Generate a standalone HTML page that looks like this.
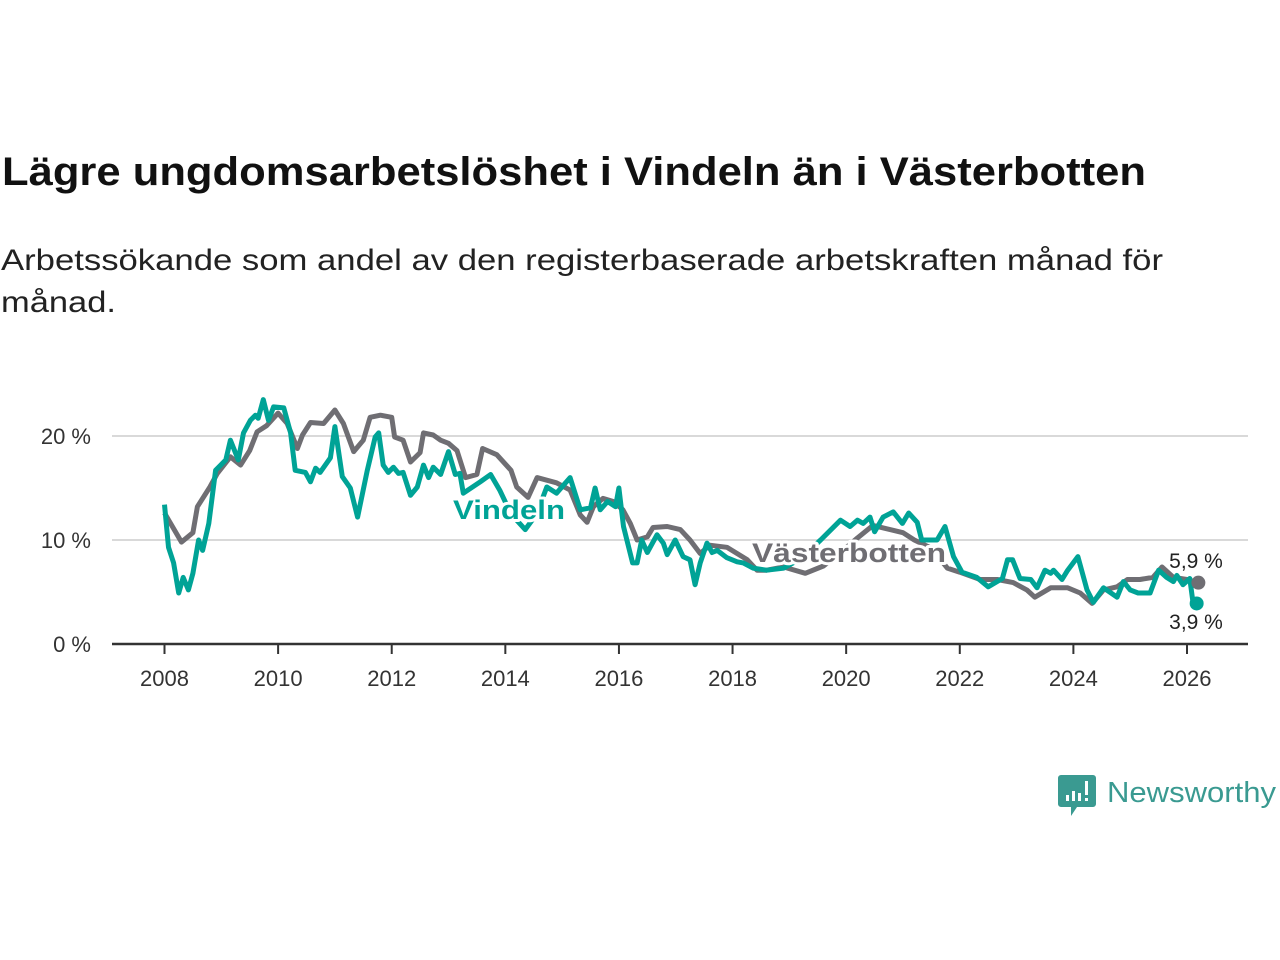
<!DOCTYPE html>
<html><head><meta charset="utf-8"><style>
body{margin:0;background:#fff;}
svg{display:block;font-family:"Liberation Sans","DejaVu Sans",sans-serif;}
</style></head><body>
<svg id="chart" width="1280" height="960" viewBox="0 0 1280 960">
<text x="2" y="185" font-size="40" font-weight="bold" fill="#111" textLength="1144" lengthAdjust="spacingAndGlyphs">Lägre ungdomsarbetslöshet i Vindeln än i Västerbotten</text>
<text x="1" y="270" font-size="30" fill="#222" textLength="1162" lengthAdjust="spacingAndGlyphs">Arbetssökande som andel av den registerbaserade arbetskraften månad för</text>
<text x="1" y="312" font-size="30" fill="#222" textLength="115" lengthAdjust="spacingAndGlyphs">månad.</text>
<g id="grid"></g>
<g id="axes"></g>
<g id="series"></g>
<g id="labels"></g>
<g>
<path d="M1061 775 h32 a3 3 0 0 1 3 3 v26 a3 3 0 0 1 -3 3 h-16 l-6 9 v-9 h-10 a3 3 0 0 1 -3 -3 v-26 a3 3 0 0 1 3 -3z" fill="#3a9a91"/>
<rect x="1066" y="795" width="3" height="6" fill="#fff"/><rect x="1072" y="791" width="3" height="10" fill="#fff"/><rect x="1078" y="793" width="3" height="8" fill="#fff"/><rect x="1085" y="781" width="3" height="14" fill="#fff"/><rect x="1085" y="798" width="3" height="3" fill="#fff"/>
<text x="1107" y="802" font-size="29" fill="#3a9a91" textLength="169" lengthAdjust="spacingAndGlyphs">Newsworthy</text>
</g>
</svg>
<script>
const yTicks=[0,10,20];
const xTicks=[2008,2010,2012,2014,2016,2018,2020,2022,2024,2026];
const vbYears=[2008.0,2008.3,2008.5,2008.58,2008.8,2008.93,2009.16,2009.34,2009.5,2009.63,2009.8,2010.0,2010.16,2010.34,2010.43,2010.57,2010.8,2011.0,2011.15,2011.33,2011.5,2011.62,2011.8,2012.0,2012.05,2012.2,2012.33,2012.5,2012.56,2012.73,2012.86,2013.0,2013.15,2013.3,2013.5,2013.6,2013.85,2014.1,2014.2,2014.4,2014.56,2014.9,2015.14,2015.32,2015.44,2015.55,2015.72,2015.9,2016.07,2016.2,2016.32,2016.5,2016.6,2016.85,2017.08,2017.25,2017.43,2017.6,2017.9,2018.08,2018.26,2018.43,2018.6,2018.9,2019.28,2019.6,2019.9,2020.2,2020.47,2021.0,2021.2,2021.5,2021.78,2022.0,2022.36,2022.66,2022.94,2023.18,2023.32,2023.6,2023.9,2024.12,2024.33,2024.53,2024.77,2024.95,2025.17,2025.4,2025.56,2025.76,2026.0,2026.2];
const vbValues=[12.6,9.8,10.7,13.2,15.1,16.4,18,17.2,18.6,20.4,21,22.2,21.2,18.8,20.1,21.3,21.2,22.5,21.2,18.5,19.6,21.8,22,21.8,19.9,19.6,17.5,18.4,20.3,20.1,19.6,19.3,18.6,16,16.3,18.8,18.2,16.7,15.1,14.1,16,15.5,14.8,12.4,11.7,13.2,14,13.7,12.9,11.6,10,10.3,11.2,11.3,11,10,8.7,9.5,9.3,8.7,8.1,7.1,7.1,7.4,6.8,7.5,8.8,10.2,11.4,10.7,10,9.2,7.3,6.9,6.2,6.2,5.9,5.2,4.5,5.4,5.4,4.9,3.9,5.2,5.5,6.2,6.2,6.4,7.4,6.4,6.2,5.9];
const viYears=[2008.0,2008.07,2008.16,2008.25,2008.33,2008.42,2008.5,2008.6,2008.67,2008.78,2008.9,2008.99,2009.08,2009.16,2009.3,2009.39,2009.51,2009.6,2009.65,2009.74,2009.83,2009.92,2010.1,2010.22,2010.3,2010.48,2010.57,2010.66,2010.74,2010.92,2011.0,2011.13,2011.27,2011.4,2011.57,2011.71,2011.77,2011.85,2011.94,2012.03,2012.12,2012.2,2012.33,2012.45,2012.56,2012.65,2012.73,2012.86,2013.0,2013.12,2013.2,2013.26,2013.56,2013.74,2013.9,2014.1,2014.35,2014.55,2014.73,2014.9,2015.14,2015.32,2015.5,2015.58,2015.67,2015.8,2015.94,2016.0,2016.08,2016.24,2016.32,2016.4,2016.5,2016.67,2016.78,2016.85,2016.99,2017.13,2017.25,2017.34,2017.43,2017.55,2017.64,2017.73,2017.9,2018.08,2018.19,2018.36,2018.6,2018.9,2019.2,2019.55,2019.9,2020.07,2020.2,2020.3,2020.42,2020.5,2020.65,2020.83,2020.99,2021.1,2021.25,2021.33,2021.6,2021.74,2021.89,2022.04,2022.3,2022.5,2022.75,2022.84,2022.93,2023.06,2023.25,2023.36,2023.5,2023.6,2023.65,2023.8,2023.9,2024.08,2024.24,2024.35,2024.53,2024.77,2024.88,2025.0,2025.14,2025.35,2025.5,2025.64,2025.76,2025.82,2025.93,2026.05,2026.1,2026.17];
const viValues=[13.4,9.3,7.8,4.9,6.4,5.2,6.8,10,9,11.6,16.7,17.2,17.7,19.6,17.7,20.3,21.5,22,21.7,23.5,21.5,22.8,22.7,20.3,16.7,16.5,15.6,16.9,16.5,17.9,20.9,16.1,15,12.2,16.7,19.9,20.3,17.2,16.5,17,16.4,16.5,14.3,15.1,17.2,16,17,16.3,18.5,16.3,16.4,14.5,15.6,16.3,14.8,12.5,11,12.5,15.1,14.5,16,12.9,13.1,15,12.9,13.7,13.2,15,11.3,7.8,7.8,10,8.8,10.5,9.7,8.6,10,8.4,8.1,5.7,7.8,9.7,8.8,9,8.3,7.9,7.8,7.3,7.1,7.3,8.2,10,11.9,11.3,11.9,11.6,12.2,10.8,12.2,12.7,11.6,12.6,11.7,10,10,11.3,8.4,6.9,6.4,5.5,6.3,8.1,8.1,6.3,6.2,5.4,7.1,6.8,7.1,6.2,7.1,8.4,5.2,4,5.4,4.5,6,5.2,4.9,4.9,7.1,6.4,6,6.6,5.7,6.3,4.2,3.9];
const NS='http://www.w3.org/2000/svg';
const X=y=>164.5+(y-2008)*(1187-164.5)/18;
const Y=v=>644-v*10.4;
function mk(tag,attrs,parent,txt){const e=document.createElementNS(NS,tag);for(const k in attrs)e.setAttribute(k,attrs[k]);if(txt!==undefined)e.textContent=txt;parent.appendChild(e);return e;}
const grid=document.getElementById('grid'),axes=document.getElementById('axes'),series=document.getElementById('series'),labels=document.getElementById('labels');
yTicks.forEach(t=>{
  if(t>0){const l=mk('line',{x1:112,x2:1248,y1:Y(t),y2:Y(t),stroke:'#d9d9d9','stroke-width':2},grid);
  
  }
  const tx=mk('text',{x:91,y:Y(t)+8,'font-size':22,fill:'#333','text-anchor':'end'},axes,t+' %');
  
  
});
const ax=mk('line',{x1:112,x2:1248,y1:644,y2:644,stroke:'#333','stroke-width':2.5},axes);


xTicks.forEach(t=>{
  const tk=mk('line',{x1:X(t),x2:X(t),y1:644,y2:654,stroke:'#333','stroke-width':2},axes);
  
  
  const tx=mk('text',{x:X(t),y:686,'font-size':22,fill:'#333','text-anchor':'middle'},axes,t);
  
  
});
function path(ys,vs){return ys.map((y,i)=>(i?'L':'M')+X(y).toFixed(1)+' '+Y(vs[i]).toFixed(1)).join(' ');}
const gp=mk('path',{d:path(vbYears,vbValues),fill:'none',stroke:'#6f6e73','stroke-width':5,'stroke-linejoin':'round'},series);


const tp=mk('path',{d:path(viYears,viValues),fill:'none',stroke:'#00a396','stroke-width':5,'stroke-linejoin':'round'},series);


const gl=vbYears.length-1,tl=viYears.length-1;
const gd=mk('circle',{cx:X(vbYears[gl]),cy:Y(vbValues[gl]),r:7,fill:'#6f6e73'},series);


const td=mk('circle',{cx:X(viYears[tl]),cy:Y(viValues[tl]),r:7,fill:'#00a396'},series);


const halo={stroke:'#fff','stroke-width':6,'paint-order':'stroke','stroke-linejoin':'round'};
const l1=mk('text',Object.assign({x:453,y:519,'font-size':27,'font-weight':'bold',fill:'#00a396',textLength:112,lengthAdjust:'spacingAndGlyphs'},halo),labels,'Vindeln');


const l2=mk('text',Object.assign({x:752,y:562,'font-size':27,'font-weight':'bold',fill:'#6f6e73',textLength:194,lengthAdjust:'spacingAndGlyphs'},halo),labels,'Västerbotten');


const v1=mk('text',Object.assign({x:1196,y:568,'font-size':21,fill:'#222','text-anchor':'middle'},halo),labels,vbValues[gl].toFixed(1).replace('.',',')+' %');


const v2=mk('text',Object.assign({x:1196,y:629,'font-size':21,fill:'#222','text-anchor':'middle'},halo),labels,viValues[tl].toFixed(1).replace('.',',')+' %');


</script>
</body></html>
